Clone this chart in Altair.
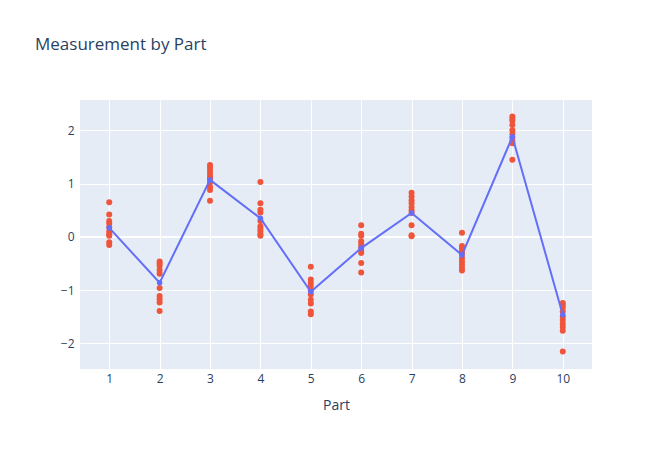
import altair as alt
import pandas as pd

parts = [1, 2, 3, 4, 5, 6, 7, 8, 9, 10]

p1 = [0.65, 0.42, 0.30, 0.25, 0.18, 0.10, 0.05, 0.02, -0.10, -0.15]
p2 = [-0.46, -0.50, -0.54, -0.62, -0.69, -0.96, -1.11, -1.17, -1.23, -1.39]
p3 = [1.35, 1.30, 1.24, 1.18, 1.12, 1.08, 1.02, 0.94, 0.88, 0.68]
p4 = [1.03, 0.63, 0.51, 0.46, 0.30, 0.20, 0.15, 0.10, 0.05, 0.02]
p5 = [-0.56, -0.80, -0.86, -0.92, -1.00, -1.08, -1.18, -1.25, -1.40, -1.45]
p6 = [0.22, 0.06, 0.02, -0.08, -0.14, -0.20, -0.26, -0.30, -0.49, -0.67]
p7 = [0.83, 0.76, 0.69, 0.63, 0.56, 0.50, 0.45, 0.22, 0.03, 0.01]
p8 = [0.08, -0.17, -0.22, -0.27, -0.32, -0.40, -0.46, -0.52, -0.58, -0.63]
p9 = [2.26, 2.22, 2.18, 2.10, 2.00, 1.93, 1.86, 1.80, 1.76, 1.45]
p10 = [-1.24, -1.28, -1.33, -1.40, -1.50, -1.56, -1.63, -1.69, -1.76, -2.15]

means = [0.17, -0.86, 1.07, 0.35, -1.03, -0.21, 0.45, -0.34, 1.88, -1.46]

measurements = [p1, p2, p3, p4, p5, p6, p7, p8, p9, p10]

rows = []
for part, vals in zip(parts, measurements):
    for v in vals:
        rows.append({"Part": part, "Measurement": v})
pts_df = pd.DataFrame(rows)
mean_df = pd.DataFrame({"Part": parts, "Mean": means})
zero_df = pd.DataFrame({"y": [0]})

FONT = "Open Sans"
TXT = "#2a3f5f"

xscale = alt.Scale(domain=[0.42, 10.58], nice=False, zero=False)
yscale = alt.Scale(domain=[-2.48, 2.57], nice=False, zero=False)

xaxis = alt.Axis(values=parts, title="Part", grid=True, gridColor="white", gridWidth=1,
                 ticks=False, domain=False, labelFont=FONT, labelFontSize=12, labelColor=TXT,
                 labelPadding=4, titleFont=FONT, titleFontSize=14, titleColor=TXT,
                 titleFontWeight="normal", titlePadding=14, labelAngle=0)
yaxis = alt.Axis(values=[-2, -1, 0, 1, 2], title=None, grid=True, gridColor="white", gridWidth=1,
                 ticks=False, domain=False, labelFont=FONT, labelFontSize=12, labelColor=TXT,
                 labelPadding=6)

zero = alt.Chart(zero_df).mark_rule(color="white", strokeWidth=2).encode(
    y=alt.Y("y:Q", scale=yscale, axis=yaxis)
)

points = alt.Chart(pts_df).mark_circle(color="#EF553B", size=36, opacity=1).encode(
    x=alt.X("Part:Q", scale=xscale, axis=xaxis),
    y=alt.Y("Measurement:Q", scale=yscale, axis=yaxis),
)

line = alt.Chart(mean_df).mark_line(
    color="#636efa", strokeWidth=2,
    point=alt.OverlayMarkDef(color="#636efa", size=30, filled=True, opacity=1)
).encode(
    x=alt.X("Part:Q", scale=xscale, axis=xaxis),
    y=alt.Y("Mean:Q", scale=yscale, axis=yaxis),
)

chart = alt.layer(zero, points, line).properties(
    width=512,
    height=269,
    background="white",
    autosize=alt.AutoSizeParams(type="none"),
    padding={"left": 80, "top": 100, "right": 80, "bottom": 81},
    title=alt.TitleParams("Measurement by Part", anchor="start", frame="group", dx=-45,
                          offset=46, fontSize=17, color=TXT, font=FONT, fontWeight="normal"),
).configure_view(fill="#E5ECF6", stroke=None)

chart.save("out.html", embed_options={"renderer": "svg", "actions": False})
